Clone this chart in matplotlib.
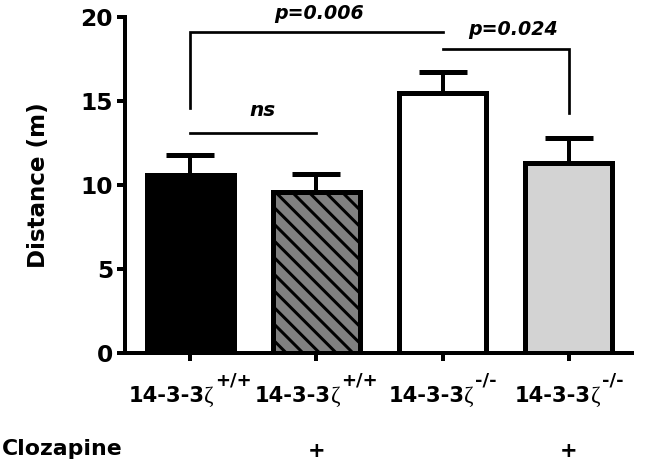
import numpy as np
import matplotlib
matplotlib.use("Agg")
import matplotlib.pyplot as plt
from matplotlib.offsetbox import TextArea, HPacker, VPacker, DrawingArea, AnnotationBbox

DPI = 100


def px(v):
    # pixel size -> points
    return v * 72.0 / DPI


# data
genotype = ["14-3-3", "14-3-3", "14-3-3", "14-3-3"]
greek = "ζ"
superscripts = ["+/+", "+/+", "-/-", "-/-"]
clozapine = ["", "+", "", "+"]
means = [10.6, 9.6, 15.5, 11.3]
sem = [1.2, 1.05, 1.2, 1.5]
yticks = [0, 5, 10, 15, 20]

# significance comparisons: (group a, group b, label)
comparisons = [(0, 1, "ns"), (0, 2, "p=0.006"), (2, 3, "p=0.024")]

fills = ["black", "#808080", "white", "#d3d3d3"]
hatches = [None, "\\\\", None, None]

plt.rcParams["font.family"] = "DejaVu Sans"
plt.rcParams["hatch.linewidth"] = px(3)
plt.rcParams["hatch.color"] = "black"

fig = plt.figure(figsize=(645 / DPI, 461 / DPI), dpi=DPI)
ax = fig.add_axes([125 / 645, 1 - 353 / 461, (632 - 125) / 645, (353 - 17) / 461])

x = np.arange(len(means))
ax.errorbar(x, means, yerr=[np.zeros(len(sem)), sem], fmt="none", ecolor="black",
            elinewidth=px(4), capsize=px(47) / 2, capthick=px(5), zorder=1)
ax.bar(x, means, width=0.69, color=fills, edgecolor="black", linewidth=px(5),
       hatch=hatches, zorder=2)

ax.set_xlim(-0.516, 3.5)
ax.set_ylim(0, 20)
ax.set_yticks(yticks)
ax.set_yticklabels([str(v) for v in yticks])
ax.set_xticks(x)
ax.set_xticklabels([""] * len(x))
for s in ["top", "right"]:
    ax.spines[s].set_visible(False)
for s in ["left", "bottom"]:
    ax.spines[s].set_linewidth(px(4))
ax.tick_params(direction="out", length=px(8), width=px(4), pad=px(4),
               labelsize=px(23.3))
for t in ax.get_yticklabels():
    t.set_fontweight("bold")

ax.set_ylabel("Distance (m)", fontsize=px(23), fontweight="bold")
ax.yaxis.set_label_coords((50 - 125) / 507, 0.5)

# x labels: 14-3-3 + zeta + superscript genotype
for i in x:
    base = TextArea(genotype[i], textprops=dict(fontsize=px(21), fontweight="bold"))
    zeta = TextArea(greek, textprops=dict(fontsize=px(23), family="Liberation Serif",
                                          fontweight="normal"))
    main = HPacker(children=[base, zeta], align="baseline", pad=0, sep=0)
    lowered = VPacker(children=[DrawingArea(0, 11), main], align="left", pad=0, sep=0)
    sup = TextArea(superscripts[i], textprops=dict(fontsize=px(18), fontweight="bold"))
    lab = HPacker(children=[lowered, sup], align="top", pad=0, sep=1)
    ab = AnnotationBbox(lab, (i, 0), xycoords=("data", "axes fraction"),
                        xybox=(0, -px(18)), boxcoords="offset points",
                        box_alignment=(0.5, 1.0), frameon=False, pad=0,
                        annotation_clip=False)
    ax.add_artist(ab)
    if clozapine[i]:
        ax.annotate(clozapine[i], xy=(i, 0), xycoords=("data", "axes fraction"),
                    xytext=(0, -px(104)), textcoords="offset points", ha="center",
                    va="baseline", fontsize=px(21), fontweight="bold",
                    annotation_clip=False)

fig.text(2 / 645, 1 - 455 / 461, "Clozapine", fontsize=px(22), fontweight="bold",
         va="baseline", ha="left")

# significance brackets
blw = px(2.7)
a, b, lab = comparisons[0]
ax.plot([a, b], [13.1, 13.1], color="black", lw=blw, clip_on=False)
ax.text(0.57, 13.85, lab, ha="center", va="bottom", fontsize=px(20),
        fontweight="bold", style="italic")

a, b, lab = comparisons[1]
ax.plot([a, a, b], [14.6, 19.1, 19.1], color="black", lw=blw, clip_on=False,
        solid_joinstyle="miter")
ax.text(1.02, 19.9, lab, ha="center", va="baseline", fontsize=px(19),
        fontweight="bold", style="italic", clip_on=False)

a, b, lab = comparisons[2]
ax.plot([a, b, b], [18.1, 18.1, 14.3], color="black", lw=blw, clip_on=False,
        solid_joinstyle="miter")
ax.text(2.56, 18.9, lab, ha="center", va="baseline", fontsize=px(19),
        fontweight="bold", style="italic", clip_on=False)

fig.savefig("out.png", dpi=DPI)
